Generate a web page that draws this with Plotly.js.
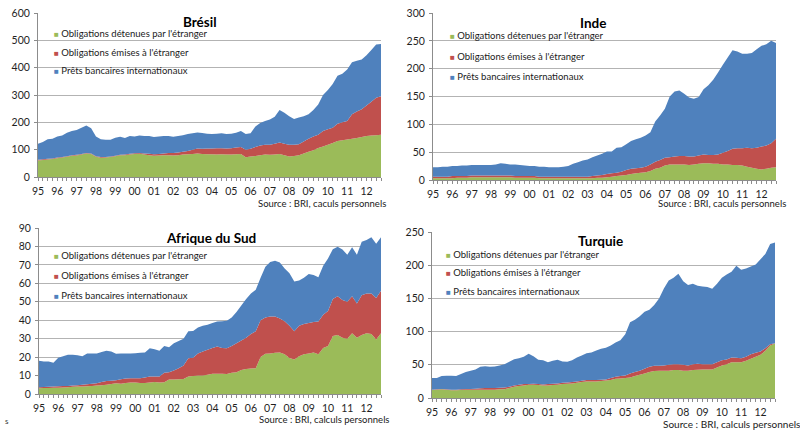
<!DOCTYPE html>
<html>
<head>
<meta charset="utf-8">
<script src="https://cdn.plot.ly/plotly-3.0.1.min.js"></script>
<style>html,body{margin:0;padding:0;background:#fff;}#chart{width:800px;height:448px;}</style>
</head>
<body>
<div id="chart"></div>
<script>
// Quarterly observations, 1995 Q1 to 2012 Q4
const years = [1995,1996,1997,1998,1999,2000,2001,2002,2003,2004,2005,2006,2007,2008,2009,2010,2011,2012];
const yearLabels = ['95','96','97','98','99','00','01','02','03','04','05','06','07','08','09','10','11','12'];
const seriesNames = ["Obligations détenues par l'étranger", "Obligations émises à l'étranger", "Prêts bancaires internationaux"];
const seriesColors = ['#9BBB59', '#C0504D', '#4F81BD'];

// Brésil
const bresilDetenues = [60,62,64,66, 69,71,74,78, 79,82,86,84, 74,70,71,73, 76,80,80,82, 84,85,82,80, 78,79,80,80, 79,80,82,83, 84,86,84,83, 83,82,83,82, 82,83,84,72, 75,77,80,82, 81,82,84,80, 75,77,80,86, 92,98,106,112, 118,124,132,134, 137,140,143,146, 150,152,153,155];
const bresilEmises = [3,3,3,2, 2,2,2,2, 2,2,2,2, 2,3,2,2, 2,1,2,3, 3,3,4,5, 5,5,6,8, 9,10,10,12, 16,18,19,21, 21,23,22,22, 23,25,26,28, 28,33,35,36, 37,40,42,42, 43,41,40,44, 48,50,49,56, 57,56,63,66, 68,90,97,102, 112,123,137,140];
const bresilPrets = [59,63,71,72, 77,79,86,88, 91,96,100,92, 72,65,63,61, 66,66,61,65, 61,64,64,65, 63,64,64,62, 59,60,61,62, 60,59,58,54, 53,53,55,53, 53,54,58,57, 57,75,83,87, 92,98,119,113, 104,94,98,92, 90,97,110,132, 143,160,175,178, 188,190,185,182, 183,190,195,192];

// Inde
const indeDetenues = [3,3,3,3, 3,4,4,4, 5,5,5,5, 5,5,5,5, 5,4,4,4, 4,4,3,3, 3,3,3,3, 3,3,3,3, 3,3,4,4, 5,6,7,8, 9,11,12,13, 14,16,20,22, 26,28,28,28, 28,27,28,29, 30,30,29,29, 28,28,27,27, 26,24,22,20, 19,20,22,23];
const indeEmises = [3,3,3,3, 4,3,3,3, 3,3,3,3, 3,3,3,3, 3,3,3,3, 3,3,3,3, 3,3,3,3, 3,3,3,3, 3,4,4,5, 6,6,6,7, 9,9,9,9, 10,12,13,14, 14,13,14,15, 15,15,14,15, 16,15,16,17, 21,24,29,30, 31,34,35,38, 41,42,44,51];
const indePrets = [17,17,18,18, 18,18,19,19, 19,19,19,19, 19,20,22,21, 20,21,20,19, 18,18,18,18, 17,17,17,18, 19,23,26,29, 31,34,36,38, 40,39,45,44, 46,50,52,54, 56,58,72,80, 88,109,117,118, 112,106,104,105, 117,125,135,147, 158,168,177,174, 170,169,171,177, 181,182,184,172];

// Afrique du Sud
const afsudDetenues = [3.1,3.2,3.3,3.4, 3.4,3.5,3.7,3.9, 4.0,4.1,4.2,4.4, 4.6,4.8,5.0,5.4, 5.8,5.6,6.0,6.2, 6.2,6.0,5.9,6.3, 6.5,6.3,6.4,7.8, 7.8,8.0,8.2,9.5, 9.8,10.0,10.0,10.5, 11.0,11.0,11.0,10.8, 11.5,11.8,13.0,13.5, 13.8,14.0,20.0,21.8, 22.0,22.3,22.5,21.5, 19.5,18.7,20.5,21.5, 22.0,22.5,21.5,25.0, 26.0,31.5,32.0,30.5, 30.0,33.0,30.5,32.0, 33.0,32.5,29.5,33.0];
const afsudEmises = [0.5,0.6,0.6,0.6, 0.8,0.8,0.7,0.7, 0.8,0.9,1.1,1.2, 1.2,1.7,2.0,1.8, 1.7,2.4,2.4,2.3, 2.3,2.5,3.1,3.2, 3.0,3.2,5.1,4.0, 4.9,6.0,7.3,9.9, 9.9,12.0,13.0,13.5, 14.0,14.7,14.0,14.0, 14.5,15.7,16.0,17.0, 18.7,20.0,20.0,19.7, 20.0,19.7,18.5,18.0, 17.5,15.3,16.5,16.5, 16.5,16.5,17.8,18.0, 19.0,20.0,21.0,20.5, 20.0,20.0,18.5,21.5, 21.5,22.0,22.5,23.0];
const afsudPrets = [14.4,13.8,13.7,13.0, 15.5,16.2,16.9,16.7, 16.2,15.5,16.7,16.4, 16.2,16.3,16.4,15.8, 14.3,14.0,13.6,13.5, 13.6,13.8,13.5,15.3, 14.8,14.0,14.5,13.5, 14.8,14.8,14.5,14.6, 14.5,14.0,14.0,13.6, 13.5,13.6,14.5,14.9, 15.5,17.0,19.0,21.0, 22.0,22.5,23.0,27.5, 29.5,30.3,30.3,28.5, 28.5,27.0,24.5,25.0, 26.5,25.5,24.0,26.5, 28.5,27.0,26.8,27.3, 25.5,26.5,26.5,29.0, 29.0,30.5,29.5,29.0];

// Turquie
const turquieDetenues = [12,12.5,13,12.5, 11.5,11.5,12,12.5, 12.5,12.5,12.5,12.5, 12.5,12.5,13,13, 15,17,18,19, 20,20,19.5,19, 19,19.5,20,21, 21.5,22,23,24, 25,25,25,25.5, 26.5,27,29,29.5, 30,31,33,35, 37,39,40.5,41, 41,41,42,42, 41,41,42,42.5, 43,43,43,46, 49,51,54,54, 54,56,59,62, 65,71,79,82];
const turquieEmises = [0.5,0.5,0.5,0.5, 1,1,1,1, 1,1.5,2,2.5, 2.5,2.5,2.5,3, 2,2,2,2, 1,1.5,1.5,1.5, 2,2,2,2, 2,2,2,2, 2,2,2,2, 1.5,3,3,3.5, 4,6,6,6, 7,8,8,7.5, 8,9,9,9, 9,8,9,9, 8,8,8,8, 8,7,7,6.5, 6,6,7,6, 5,4,2,0.5];
const turquiePrets = [17.5,17,19.5,20.5, 21,20.5,23,25.5, 27.5,29,32.5,33, 32,32.5,33.5,35, 37.5,39.5,40,41, 45.5,41.5,36.7,36.5, 33,34.5,35.5,32, 31,33,36,38, 40.5,41.5,44.5,46.5, 47.5,49,51.5,54, 62,77,79,82, 86,86,91.5,101.5, 116,127,130,136, 126,121,121,117.5, 117,116,113.5,118, 124,128,129,138.5, 133,133,132,133, 139,142,151,151.5];

const panelTitles = ['Brésil', 'Inde', 'Afrique du Sud', 'Turquie'];
const sourceTexts = ['Source : BRI, caculs personnels', 'Source : BRI, caculs personnels', 'Source : BRI, calculs personnels', 'Source : BRI, calculs personnels'];

// quarterly x positions built from the years list
const quarters = [];
years.forEach(y => { for (let q = 0; q < 4; q++) quarters.push(y + q / 4); });

const panels = [
  {data: [bresilDetenues, bresilEmises, bresilPrets], range: [0, 600], dtick: 100},
  {data: [indeDetenues, indeEmises, indePrets], range: [0, 300], dtick: 50},
  {data: [afsudDetenues, afsudEmises, afsudPrets], range: [0, 90], dtick: 10},
  {data: [turquieDetenues, turquieEmises, turquiePrets], range: [0, 250], dtick: 50}
];

const FONT = 'Lato, "Open Sans", sans-serif';
const traces = [];
panels.forEach((p, k) => {
  const suf = k === 0 ? '' : String(k + 1);
  p.data.forEach((vals, s) => {
    traces.push({
      type: 'scatter', mode: 'none', x: quarters, y: vals,
      xaxis: 'x' + suf, yaxis: 'y' + suf,
      stackgroup: 'g' + k, fillcolor: seriesColors[s],
      name: seriesNames[s], showlegend: false, line: {width: 0}
    });
  });
});

// layout geometry (pixel boxes of each panel's plot area)
const boxes = [
  {x0: 38, x1: 381, y0: 13, y1: 177},
  {x0: 433, x1: 776, y0: 13, y1: 180},
  {x0: 39, x1: 381, y0: 228, y1: 394},
  {x0: 432, x1: 775, y0: 232, y1: 398}
];
const W = 800, H = 448;
const layout = {
  width: W, height: H,
  margin: {l: 0, r: 0, t: 0, b: 0},
  paper_bgcolor: '#fff', plot_bgcolor: '#fff',
  showlegend: false,
  font: {family: FONT, size: 10, color: '#262626'},
  annotations: []
};
boxes.forEach((b, k) => {
  const suf = k === 0 ? '' : String(k + 1);
  layout['xaxis' + suf] = {
    domain: [b.x0 / W, b.x1 / W], anchor: 'y' + suf,
    range: [1995, 2012.75], tickmode: 'array', tickvals: years, ticktext: yearLabels,
    showgrid: false, zeroline: false, showline: true, linecolor: '#8c8c8c', linewidth: 1,
    ticks: 'outside', ticklen: 3, tickcolor: '#8c8c8c', ticklabelstandoff: 1,
    minor: {tickmode: 'linear', tick0: 1995, dtick: 0.25, ticks: 'outside', ticklen: 3, tickcolor: '#8c8c8c', showgrid: false},
    tickfont: {family: FONT, size: 10.5, color: '#1f1f1f'}, fixedrange: true
  };
  layout['yaxis' + suf] = {
    domain: [1 - b.y1 / H, 1 - b.y0 / H], anchor: 'x' + suf,
    range: panels[k].range, dtick: panels[k].dtick, tick0: 0,
    showgrid: true, gridcolor: '#b3b3b3', gridwidth: 1, zeroline: false,
    showline: true, linecolor: '#8c8c8c', ticks: 'outside', ticklen: 3, tickcolor: '#8c8c8c',
    ticklabelstandoff: 2,
    tickfont: {family: FONT, size: 10.5, color: '#1f1f1f'}, fixedrange: true
  };
});

// panel titles
const titlePos = [[200, 22], [593, 23], [211, 238], [600, 241]];
titlePos.forEach((t, k) => {
  layout.annotations.push({xref: 'paper', yref: 'paper', x: t[0] / W, y: 1 - t[1] / H,
    xanchor: 'center', yanchor: 'middle', showarrow: false, text: '<b>' + panelTitles[k] + '</b>',
    font: {family: FONT, size: 13.5, color: '#000'}});
});
// legend blocks
const legendPos = [
  {x: 52, rows: [34, 52.3, 70.7]},
  {x: 448, rows: [35, 56, 76]},
  {x: 52, rows: [255.7, 275.7, 295.7]},
  {x: 444, rows: [254, 272.3, 291]}
];
legendPos.forEach(l => {
  l.rows.forEach((ry, s) => {
    layout.annotations.push({xref: 'paper', yref: 'paper', x: l.x / W, y: 1 - ry / H,
      xanchor: 'left', yanchor: 'middle', showarrow: false,
      text: '<span style="color:' + seriesColors[s] + ';font-size:8px">■</span> ' + seriesNames[s],
      font: {family: FONT, size: 9.5, color: '#1a1a1a'}});
  });
});
// sources
const srcPos = [[388, 203, 'right', 9.5], [788, 203, 'right', 9.5], [391, 419, 'right', 9.5], [661, 424, 'left', 10]];
srcPos.forEach((s, k) => {
  layout.annotations.push({xref: 'paper', yref: 'paper', x: s[0] / W, y: 1 - s[1] / H,
    xanchor: s[2], yanchor: 'middle', showarrow: false, text: sourceTexts[k],
    font: {family: FONT, size: s[3], color: '#1a1a1a'}});
});
layout.annotations.push({xref: 'paper', yref: 'paper', x: 3 / W, y: 1 - 421 / H,
  xanchor: 'left', yanchor: 'middle', showarrow: false, text: 's',
  font: {family: FONT, size: 8, color: '#333'}});

Plotly.newPlot('chart', traces, layout, {displayModeBar: false, staticPlot: true});
</script>
</body>
</html>
